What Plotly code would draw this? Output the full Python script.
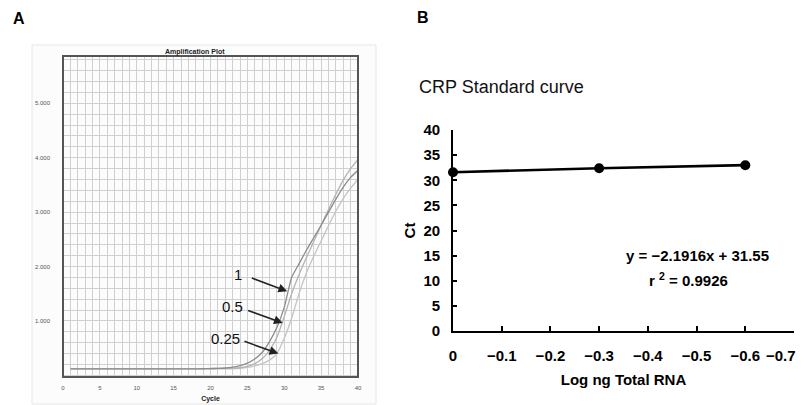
import plotly.graph_objects as go

# ---------------- Panel A data (Amplification plot) ----------------
cycles = list(range(1, 41))
curve_1 = [120, 120, 120, 120, 120, 120, 120, 120, 120, 120,
           120, 120, 120, 120, 120, 120, 120, 120, 122, 124,
           128, 135, 150, 180, 225, 300, 420, 620, 880, 1250,
           1800, 2050, 2300, 2530, 2760, 3000, 3240, 3460, 3640, 3770]
curve_05 = [125, 125, 125, 125, 125, 125, 125, 125, 125, 125,
            125, 125, 125, 125, 125, 125, 125, 125, 125, 126,
            127, 128, 132, 140, 165, 215, 305, 460, 700, 1080,
            1500, 1850, 2160, 2460, 2760, 3050, 3330, 3590, 3800, 3970]
curve_025 = [118, 118, 118, 118, 118, 118, 118, 118, 118, 118,
             118, 118, 118, 118, 118, 118, 118, 118, 118, 118,
             119, 120, 122, 128, 145, 175, 215, 280, 400, 680,
             1050, 1500, 1880, 2190, 2470, 2750, 3020, 3250, 3440, 3600]
a_ytick_vals = [1000, 2000, 3000, 4000, 5000]
a_ytick_text = ["1.000", "2.000", "3.000", "4.000", "5.000"]
a_xtick_vals = [0, 5, 10, 15, 20, 25, 30, 35, 40]

# arrow labels: (text, label x, label y, tail x, tail y, tip x, tip y)
arrow_labels = ["1", "0.5", "0.25"]
arrow_label_x = [23.7, 23.0, 22.0]
arrow_label_y = [1855, 1273, 673]
arrow_tail_x = [25.4, 24.9, 24.4]
arrow_tail_y = [1800, 1200, 636]
arrow_tip_x = [30.4, 29.8, 29.2]
arrow_tip_y = [1545, 964, 400]

# ---------------- Panel B data (Standard curve) ----------------
log_ng = [0, -0.3, -0.6]
ct = [31.6, 32.4, 33.0]
b_xtick_vals = [0, -0.1, -0.2, -0.3, -0.4, -0.5, -0.6, -0.7]
b_xtick_text = ["0", "−0.1", "−0.2", "−0.3", "−0.4", "−0.5", "−0.6", "−0.7"]
b_ytick_vals = [0, 5, 10, 15, 20, 25, 30, 35, 40]

# page has an 8px body margin: figure sized to fit the remaining window area
OFF = 8
W, H = 808 - OFF, 405 - OFF
def px(x):
    return (x - OFF) / W
def py(y):
    return 1 - (y - OFF) / H

fig = go.Figure()

colors_a = ["#8c8c8c", "#b4b4b4", "#c4c4c4"]
for ys, c in zip([curve_025, curve_05, curve_1], colors_a[::-1]):
    fig.add_trace(go.Scatter(x=cycles, y=ys, mode="lines",
                             line=dict(color=c, width=1.3, shape="spline", smoothing=0.6),
                             xaxis="x", yaxis="y", showlegend=False, hoverinfo="skip"))

fig.add_trace(go.Scatter(x=log_ng, y=ct, mode="lines+markers",
                         line=dict(color="#000000", width=2.6),
                         marker=dict(color="#000000", size=10),
                         xaxis="x2", yaxis="y2", showlegend=False, cliponaxis=False))

# last x tick label of B is drawn as an annotation so it stays inside the window
b_xtick_shown = b_xtick_text[:-1] + [""]

grid_c = "#d0d0d0"
fig.update_layout(
    width=W, height=H,
    margin=dict(l=0, r=0, t=0, b=0, pad=0, autoexpand=False),
    paper_bgcolor="white", plot_bgcolor="white",
    font=dict(family="Liberation Sans, Arial, sans-serif", color="#000"),
    xaxis=dict(domain=[px(63), px(358)], range=[0, 40], automargin=False,
               tickmode="array", tickvals=a_xtick_vals,
               showgrid=True, gridcolor=grid_c, gridwidth=1.2,
               minor=dict(tickmode="linear", tick0=0, dtick=1, showgrid=True,
                          gridcolor=grid_c, gridwidth=1.2),
               zeroline=False, showline=False, ticks="",
               tickfont=dict(size=6, color="#555"), ticklabelstandoff=6,
               title=dict(text="<b>Cycle</b>", font=dict(size=7, color="#222"), standoff=6),
               anchor="y", fixedrange=True),
    yaxis=dict(domain=[py(377), py(56)], range=[-30, 5870], automargin=False,
               tickmode="array", tickvals=a_ytick_vals, ticktext=a_ytick_text,
               showgrid=True, gridcolor=grid_c, gridwidth=1.2,
               minor=dict(tickmode="linear", tick0=0, dtick=200, showgrid=True,
                          gridcolor=grid_c, gridwidth=1.2),
               zeroline=False, showline=False, ticks="",
               tickfont=dict(size=6, color="#555"), ticklabelstandoff=12,
               anchor="x", fixedrange=True),
    xaxis2=dict(domain=[px(453), px(794)], range=[0, -0.7], automargin=False,
                tickmode="array", tickvals=b_xtick_vals, ticktext=b_xtick_shown,
                showgrid=False, zeroline=False,
                showline=True, linecolor="#000", linewidth=1.6,
                ticks="inside", ticklen=5, tickwidth=1.6, tickcolor="#000",
                tickfont=dict(size=15, color="#000", weight="bold"),
                ticklabelstandoff=10, ticklabeloverflow="allow",
                title=dict(text="<b>Log ng Total RNA</b>", font=dict(size=15), standoff=12),
                anchor="y2", fixedrange=True),
    yaxis2=dict(domain=[py(331), py(130)], range=[0, 40], automargin=False,
                tickmode="array", tickvals=b_ytick_vals,
                showgrid=False, zeroline=False,
                showline=True, linecolor="#000", linewidth=1.6,
                ticks="inside", ticklen=4, tickwidth=1.6, tickcolor="#000",
                tickfont=dict(size=15, color="#000", weight="bold"),
                ticklabelstandoff=8,
                title=dict(text="<b>Ct</b>", font=dict(size=15), standoff=4),
                anchor="x2", fixedrange=True),
)

# Panel A outer light frame and plot border
fig.add_shape(type="rect", xref="paper", yref="paper",
              x0=px(32), x1=px(376), y0=py(404), y1=py(45),
              line=dict(color="#e6e6e6", width=1), fillcolor="#fcfcfc", layer="below")
fig.add_shape(type="rect", xref="x domain", yref="y domain", x0=0, x1=1, y0=0, y1=1,
              line=dict(color="#555555", width=2))

# Arrows and labels in A
for t, lx, ly, tx, ty, hx, hy in zip(arrow_labels, arrow_label_x, arrow_label_y,
                                      arrow_tail_x, arrow_tail_y, arrow_tip_x, arrow_tip_y):
    fig.add_annotation(x=hx, y=hy, ax=tx, ay=ty, xref="x", yref="y", axref="x", ayref="y",
                       text="", showarrow=True, arrowhead=2, arrowsize=1.1, arrowwidth=1.6,
                       arrowcolor="#222")
    fig.add_annotation(x=lx, y=ly, xref="x", yref="y", text=t, showarrow=False,
                       xanchor="center", yanchor="middle",
                       font=dict(size=15, color="#111111"))

def label(x, y, text, size, color="#000", xanchor="center"):
    fig.add_annotation(x=px(x), y=py(y), xref="paper", yref="paper", text=text,
                       showarrow=False, xanchor=xanchor, yanchor="middle",
                       font=dict(size=size, color=color))

label(195, 52, "<b>Amplification Plot</b>", 7, "#222")
label(19, 18, "<b>A</b>", 16)
label(423, 17, "<b>B</b>", 16)
label(417, 87, "CRP Standard curve", 18, "#111", xanchor="left")
label(697, 255, "<b>y = −2.1916x + 31.55</b>", 15)
label(688, 279, "<b>r <sup>2</sup> = 0.9926</b>", 15)
# last tick label of panel B's x axis, kept inside the page
fig.add_annotation(x=b_xtick_vals[-1], y=py(355), xref="x2", yref="paper",
                   text="<b>" + b_xtick_text[-1] + "</b>", showarrow=False,
                   xanchor="right", xshift=4, yanchor="middle", font=dict(size=15))

fig.write_html("out.html")
